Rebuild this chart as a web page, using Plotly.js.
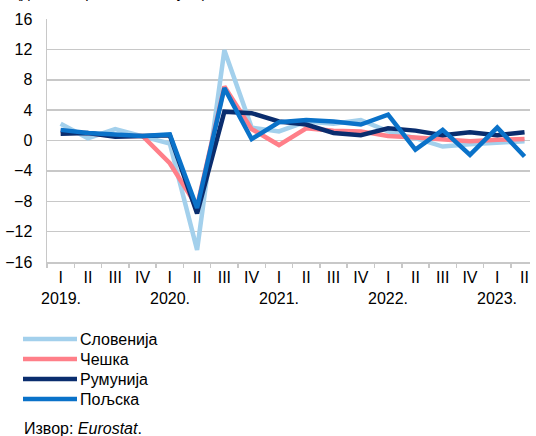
<!DOCTYPE html>
<html>
<head>
<meta charset="utf-8">
<script src="https://cdn.plot.ly/plotly-3.0.1.min.js"></script>
<style>html,body{margin:0;padding:0;background:#fff;}#chart{width:536px;height:436px;}</style>
</head>
<body>
<div id="chart"></div>
<script>
const quarterLabels = ['I','II','III','IV','I','II','III','IV','I','II','III','IV','I','II','III','IV','I','II'];
const yearLabels = ['2019.','2020.','2021.','2022.','2023.'];
const yearStartIndex = [0, 4, 8, 12, 16];
const seriesNames = ['Словенија','Чешка','Румунија','Пољска'];
const seriesColors = ['#a3d0ec','#ff7f89','#0a2d6e','#0a72c9'];
const slovenia = [2.2, 0.3, 1.5, 0.6, -0.4, -14.4, 11.9, 1.7, 1.2, 2.5, 2.2, 2.7, 1.2, 0.3, -0.8, -0.5, -0.3, -0.1];
const czechia  = [1.3, 0.9, 0.6, 0.6, -3.0, -8.7, 7.1, 1.5, -0.6, 1.6, 1.3, 1.2, 0.6, 0.4, 0.1, -0.1, 0.1, 0.2];
const romania  = [0.9, 1.0, 0.5, 0.6, 0.7, -9.6, 3.8, 3.6, 2.5, 2.1, 1.0, 0.7, 1.6, 1.3, 0.7, 1.1, 0.7, 1.1];
const poland   = [1.4, 1.0, 0.8, 0.6, 0.8, -8.9, 6.9, 0.2, 2.4, 2.7, 2.5, 2.1, 3.4, -1.2, 1.4, -1.9, 1.7, -2.1];
const yTicks = [-16,-12,-8,-4,0,4,8,12,16];
const sourceText = 'Извор: <i>Eurostat</i>.';
const subtitleText = '(десезонирано, кв./кв., у %)';

const W = 536, H = 436, ML = 47, MR = 6, MT = 19, MB = 174;
const PW = W - ML - MR, PH = H - MT - MB;
const px2x = px => (px - ML) / PW;
const py2y = py => (H - MB - py) / PH;

const xIdx = quarterLabels.map((_, i) => i);
const allSeries = [slovenia, czechia, romania, poland];
const FONT = 'Liberation Sans, Arial, sans-serif';

const traces = allSeries.map((ys, k) => ({
  type: 'scatter', mode: 'lines', x: xIdx, y: ys, name: seriesNames[k],
  line: {color: seriesColors[k], width: 4.5}, hoverinfo: 'skip', showlegend: false
}));

const annotations = yearStartIndex.map((xi, k) => ({
  x: xi, y: py2y(298), xref: 'x', yref: 'paper', text: yearLabels[k], showarrow: false,
  xanchor: 'center', yanchor: 'middle', font: {family: FONT, size: 16, color: '#000'}
}));
annotations.push({
  x: px2x(22), y: py2y(428), xref: 'paper', yref: 'paper', text: sourceText, showarrow: false,
  xanchor: 'left', yanchor: 'middle', font: {family: FONT, size: 16, color: '#000'}
});
annotations.push({
  x: px2x(14), y: py2y(2.8), xref: 'paper', yref: 'paper', text: subtitleText, showarrow: false,
  xanchor: 'left', yanchor: 'bottom', font: {family: FONT, size: 15, color: '#000'}
});

// legend keys (manual, to match the long line samples)
const shapes = [];
seriesNames.forEach((nm, k) => {
  const py = 339 + k * 20;
  shapes.push({type: 'line', xref: 'paper', yref: 'paper', x0: px2x(23), x1: px2x(77), y0: py2y(py), y1: py2y(py),
               line: {color: seriesColors[k], width: 4.5}});
  annotations.push({x: px2x(78), y: py2y(py), xref: 'paper', yref: 'paper', text: nm, showarrow: false,
                    xanchor: 'left', yanchor: 'middle', font: {family: FONT, size: 16, color: '#000'}});
});

const layout = {
  width: W, height: H,
  margin: {l: ML, r: MR, t: MT, b: MB, pad: 0},
  paper_bgcolor: '#fff', plot_bgcolor: '#fff',
  font: {family: FONT, size: 16, color: '#000'},
  showlegend: false,
  xaxis: {
    range: [-0.5, 17.2], tickmode: 'array', tickvals: xIdx, ticktext: quarterLabels,
    ticks: '', showgrid: false, zeroline: false, showline: true, linecolor: '#c8c8c8', linewidth: 1.5,
    tickfont: {family: FONT, size: 16, color: '#000'}, ticklabelstandoff: 0,
    minor: {tickmode: 'array', tickvals: xIdx.map(i => i - 0.5), ticks: 'outside', ticklen: 4, tickcolor: '#c8c8c8', tickwidth: 1.5, showgrid: false},
    fixedrange: true
  },
  yaxis: {
    range: [-16, 16], tickmode: 'array', tickvals: yTicks, ticks: '',
    showgrid: true, gridcolor: '#c8c8c8', gridwidth: 1.5, zeroline: false,
    showline: true, linecolor: '#c8c8c8', linewidth: 1.5,
    tickfont: {family: FONT, size: 16, color: '#000'}, ticklabelstandoff: 10, fixedrange: true
  },
  shapes: shapes,
  annotations: annotations
};

Plotly.newPlot('chart', traces, layout, {staticPlot: true, displayModeBar: false});
</script>
</body>
</html>
